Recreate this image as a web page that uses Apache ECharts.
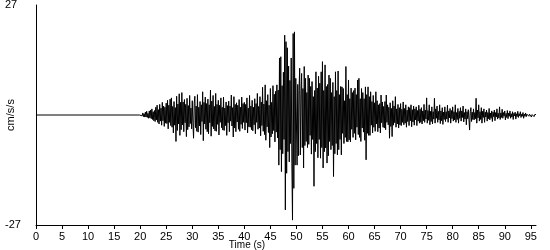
<!DOCTYPE html>
<html>
<head>
<meta charset="utf-8">
<script src="https://cdn.jsdelivr.net/npm/echarts@6/dist/echarts.min.js"></script>
<style>
html,body{margin:0;padding:0;background:#fff;}
#chart{width:550px;height:250px;}
</style>
</head>
<body>
<div id="chart"></div>
<script>
// Time axis tick labels (s)
const xTicks = [0,5,10,15,20,25,30,35,40,45,50,55,60,65,70,75,80,85,90,95];
// Acceleration axis labels (cm/s/s)
const yTicks = [-27, 27];
// Quiet pre-event record: [time, value]
const quietPart = [[0, 0], [19.875, 0]];
// Record start time and sample step of the active part (s)
const recordStart = 20;
const sampleStep = 0.125;
// Acceleration values (cm/s/s), 8 per second from t=20 s
const accel = [
  0.2,-0.3,0.4,-0.2,0.5,-0.4,0.3,-0.5,      // 20
  0.7,-0.5,0.9,-0.6,0.4,-0.8,1.0,-0.7,      // 21
  1.2,-0.9,1.5,-1.1,0.8,-1.4,1.1,-1.6,      // 22
  1.9,-1.2,2.4,-1.8,1.3,-2.2,2.6,-1.5,      // 23
  1.7,-2.5,3.1,-1.4,2.2,-2.8,1.9,-2.0,      // 24
  2.9,-2.1,3.6,-3.4,2.4,-1.8,3.9,-2.6,      // 25
  4.2,-3.0,2.1,-4.4,3.3,-2.5,1.8,-6.5,      // 26
  4.6,-3.8,2.7,-2.2,5.2,-5.0,3.1,-3.6,      // 27
  5.5,-2.4,3.2,-4.1,3.8,-1.9,2.6,-5.3,      // 28
  4.1,-3.6,2.3,-2.9,4.8,-2.1,1.7,-3.4,      // 29
  3.5,-1.8,-5.7,2.9,4.6,-3.1,2.2,-4.0,      // 30
  5.0,-4.2,1.9,-2.7,3.3,-4.8,2.5,-1.6,      // 31
  5.7,-6.3,3.1,-2.2,4.4,-3.5,2.8,-4.1,      // 32
  3.9,-4.6,2.5,-1.9,6.1,-5.2,3.4,-2.8,      // 33
  4.8,-3.4,2.1,-3.9,5.3,-4.0,2.6,-2.3,      // 34
  3.6,-4.9,2.4,-1.8,4.2,-3.1,1.9,-3.7,      // 35
  4.4,-3.8,1.7,-2.6,3.2,-5.0,2.3,-1.9,      // 36
  3.4,-4.1,2.2,-1.5,4.9,-2.7,1.8,-5.4,      // 37
  4.5,-3.2,2.6,-4.1,3.0,-1.7,2.4,-3.5,      // 38
  3.8,-4.0,1.9,-2.3,4.4,-3.3,2.8,-1.8,      // 39
  3.1,-3.7,2.6,-1.9,4.2,-4.4,1.7,-2.9,      // 40
  4.8,-3.0,2.2,-3.6,3.6,-3.9,1.9,-2.4,      // 41
  4.0,-4.6,2.8,-1.8,5.3,-3.5,2.1,-3.2,      // 42
  4.5,-5.1,3.2,-2.6,6.8,-4.0,2.7,-4.8,      // 43
  7.4,-6.2,3.5,-2.9,5.0,-4.3,2.4,-8.0,      // 44
  6.5,-5.4,3.1,-4.6,7.2,-3.8,5.1,-6.6,      // 45
  5.8,-4.2,7.4,-5.6,6.1,-12.3,14.0,-8.5,    // 46
  14.3,-13.9,7.2,-9.5,10.5,-6.0,19.6,-23.3, // 47
  18.0,-14.3,16.5,-9.0,12.0,-11.5,8.5,-7.0, // 48
  14.0,-12.0,-25.8,20.0,-18.0,20.4,-12.3,9.0, // 49
  9.0,-12.3,7.5,-10.0,6.0,11.5,-9.8,5.0,    // 50
  10.2,-8.0,6.5,-13.0,11.9,-7.5,9.0,-6.5,   // 51
  5.5,-8.0,9.8,-7.2,9.0,-5.0,7.0,-9.6,      // 52
  8.2,-6.0,4.5,-17.5,6.0,-9.0,10.6,-7.0,    // 53
  6.6,-10.5,9.5,-6.0,7.8,-10.6,10.6,-8.0,   // 54
  13.1,-13.0,6.0,-9.0,12.3,-8.1,7.0,-11.8,  // 55
  7.5,-10.0,9.8,-6.5,9.0,-8.5,5.5,-7.5,     // 56
  8.0,-15.1,4.5,-9.5,10.6,-7.0,6.0,-9.8,    // 57
  10.8,-8.5,5.0,-6.0,7.0,-9.8,6.9,-4.5,     // 58
  6.5,-7.0,3.5,-5.5,11.9,-6.5,5.0,-6.6,     // 59
  8.6,-6.1,4.0,-6.6,6.6,-3.5,5.5,-5.5,      // 60
  6.0,-4.5,6.6,-6.1,5.0,-3.0,8.6,-4.8,      // 61
  9.0,-5.5,4.0,-6.5,6.5,-3.2,5.5,-4.2,      // 62
  4.0,-6.2,6.9,-11.0,5.0,-4.5,6.9,-5.0,     // 63
  4.5,-5.0,5.7,-2.5,3.3,-4.4,4.8,-3.0,      // 64
  3.0,-4.0,5.7,-2.2,3.5,-4.1,2.5,-3.2,      // 65
  2.8,-4.4,4.9,-1.9,3.2,-3.0,2.1,-3.2,      // 66
  3.3,-3.6,4.9,-1.8,2.5,-2.4,1.9,-5.7,      // 67
  3.0,-2.8,1.6,-5.3,3.5,-2.5,2.2,-1.9,      // 68
  4.5,-3.0,1.5,-2.2,2.6,-3.2,1.8,-2.4,      // 69
  2.8,-2.6,1.4,-1.8,3.2,-2.4,1.6,-2.0,      // 70
  2.5,-3.0,1.2,-1.6,2.0,-2.6,1.8,-1.4,      // 71
  2.5,-2.9,1.3,-1.7,2.2,-2.5,1.5,-1.2,      // 72
  2.0,-2.6,1.1,-1.5,2.4,-2.0,1.4,-1.8,      // 73
  1.8,-2.2,1.0,-1.4,2.6,-1.8,1.2,-1.0,      // 74
  4.2,-2.0,1.1,-1.3,2.5,-2.4,0.9,-1.6,      // 75
  2.0,-2.2,0.8,-1.0,4.1,-2.0,1.5,-0.8,      // 76
  2.2,-1.8,0.9,-1.2,2.5,-2.1,1.0,-1.4,      // 77
  1.8,-2.3,0.7,-1.1,2.0,-1.6,0.8,-1.0,      // 78
  2.4,-1.8,1.0,-0.7,1.6,-2.0,1.1,-0.9,      // 79
  2.0,-1.5,0.8,-1.2,2.5,-1.8,0.6,-1.1,      // 80
  1.6,-2.0,0.9,-0.8,1.8,-1.5,1.0,-0.6,      // 81
  2.2,-1.7,0.6,-1.0,1.5,-2.4,0.8,-0.9,      // 82
  1.3,-1.0,-3.7,0.8,1.8,-1.6,0.7,-1.1,      // 83
  1.5,-1.2,0.6,-0.9,4.1,-2.0,1.2,-0.7,      // 84
  2.5,-1.5,0.8,-1.1,1.8,-2.0,0.9,-0.6,      // 85
  1.5,-1.8,0.7,-0.5,1.2,-1.5,0.6,-0.9,      // 86
  1.6,-1.2,0.5,-0.8,1.0,-1.6,0.7,-0.4,      // 87
  1.2,-1.4,0.6,-0.5,1.5,-1.0,0.4,-0.7,      // 88
  2.0,-1.1,0.5,-0.6,1.4,-0.8,0.6,-0.3,      // 89
  1.0,-1.2,0.4,-0.6,1.1,-0.9,0.5,-0.3,      // 90
  1.0,-0.8,0.3,-0.5,0.8,-1.1,0.4,-0.2,      // 91
  0.7,-1.0,0.3,-0.4,0.9,-0.6,0.3,-0.2,      // 92
  0.8,-0.6,0.2,-0.3,0.6,-0.8,0.2,-0.3,      // 93
  0.5,-0.4,0.2,-0.2,0.5,-0.3,0.2,-0.1,      // 94
  0.4,-0.5,0.1,-0.2,0.3,-0.4,0.1,-0.1,      // 95
  0.1                                       // 96
];

const seriesData = quietPart.concat(
  accel.map((v, i) => [recordStart + i * sampleStep, v])
);

const chart = echarts.init(document.getElementById('chart'), null, {renderer: 'canvas'});
const fontFam = '"Liberation Sans", Arial, sans-serif';
chart.setOption({
  animation: false,
  backgroundColor: '#ffffff',
  grid: {left: 36, right: 14, top: 5, bottom: 25, containLabel: false, outerBoundsMode: 'none'},
  xAxis: {
    type: 'value',
    min: 0,
    max: 96,
    interval: 5,
    name: 'Time (s)',
    nameLocation: 'middle',
    nameGap: 15,
    nameMoveOverlap: false,
    nameTextStyle: {color: '#000', fontSize: 10, fontFamily: fontFam, padding: [0, 78, 0, 0]},
    axisLine: {show: true, onZero: false, lineStyle: {color: '#000', width: 1}},
    axisTick: {show: true, length: 4, customValues: xTicks, lineStyle: {color: '#000'}},
    axisLabel: {show: true, customValues: xTicks, color: '#000', fontSize: 11, fontFamily: fontFam, margin: 6},
    splitLine: {show: false}
  },
  yAxis: {
    type: 'value',
    min: -27,
    max: 27,
    name: 'cm/s/s',
    nameLocation: 'middle',
    nameGap: 20,
    nameRotate: 90,
    nameMoveOverlap: false,
    nameTextStyle: {color: '#000', fontSize: 11, fontFamily: fontFam},
    axisLine: {show: true, onZero: false, lineStyle: {color: '#000', width: 1}},
    axisTick: {show: false},
    axisLabel: {show: true, customValues: yTicks, color: '#000', fontSize: 11, fontFamily: fontFam, margin: 31, align: 'left'},
    splitLine: {show: false}
  },
  series: [{
    type: 'line',
    data: seriesData,
    showSymbol: false,
    symbol: 'none',
    sampling: null,
    lineStyle: {color: '#000', width: 1},
    z: 1
  }]
});
</script>
</body>
</html>
